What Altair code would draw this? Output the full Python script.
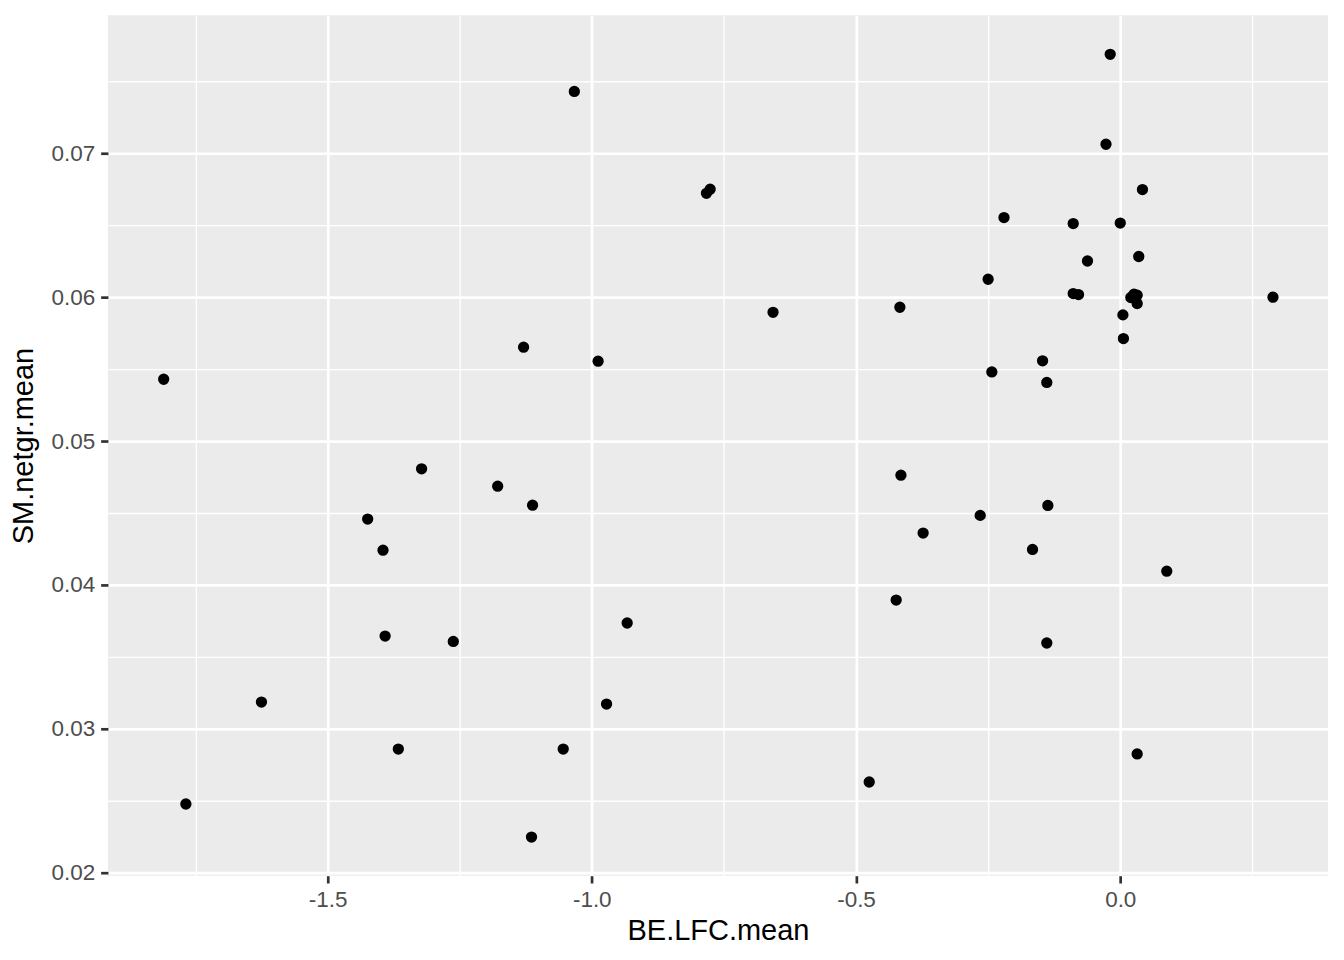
import altair as alt
import pandas as pd

be_lfc_mean = [-1.810, -1.768, -1.625, -1.424, -1.395, -1.391, -1.366, -1.322, -1.262, -1.178,
               -1.129, -1.112, -1.114, -1.054, -1.033, -0.988, -0.972, -0.933, -0.783, -0.776,
               -0.657, -0.475, -0.424, -0.417, -0.415, -0.373, -0.265, -0.250, -0.243, -0.220,
               -0.166, -0.147, -0.139, -0.137, -0.139, -0.089, -0.089, -0.079, -0.062, -0.027,
               -0.019, 0.000, 0.005, 0.006, 0.020, 0.026, 0.032, 0.032, 0.035, 0.032,
               0.042, 0.088, 0.289]
sm_netgr_mean = [0.05430, 0.02475, 0.03184, 0.04457, 0.04241, 0.03643, 0.02857, 0.04807, 0.03606, 0.04686,
                 0.05653, 0.04554, 0.02245, 0.02857, 0.07433, 0.05556, 0.03170, 0.03734, 0.06724, 0.06752,
                 0.05896, 0.02628, 0.03894, 0.05931, 0.04763, 0.04360, 0.04483, 0.06126, 0.05481, 0.06555,
                 0.04246, 0.05558, 0.05408, 0.04552, 0.03595, 0.06513, 0.06026, 0.06019, 0.06253, 0.07065,
                 0.07691, 0.06517, 0.05878, 0.05713, 0.05999, 0.06022, 0.06015, 0.05957, 0.06284, 0.02823,
                 0.06750, 0.04095, 0.06001]

x_major = [-1.5, -1.0, -0.5, 0.0]
x_minor = [-1.75, -1.25, -0.75, -0.25, 0.25]
y_major = [0.02, 0.03, 0.04, 0.05, 0.06, 0.07]
y_minor = [0.025, 0.035, 0.045, 0.055, 0.065, 0.075]
x_domain = [-1.9155, 0.3931]
y_domain = [0.01976, 0.07962]

df = pd.DataFrame({"be_lfc": be_lfc_mean, "sm_netgr": sm_netgr_mean})

FONT = "Liberation Sans"


def axis_for(major, minor, fmt, title_kw):
    test = f"indexof({major}, datum.value) >= 0"
    label = (f"{test} ? (datum.value < 0 ? '-' + format(-datum.value, '{fmt}') "
             f": format(datum.value, '{fmt}')) : ''")
    return alt.Axis(
        values=sorted(major + minor),
        labelExpr=label,
        domain=False,
        grid=True,
        gridColor="#FFFFFF",
        gridWidth={"condition": {"test": test, "value": 2.7}, "value": 1.35},
        gridOpacity=1,
        ticks=True,
        tickSize=7.3,
        tickWidth=2.7,
        tickColor={"condition": {"test": test, "value": "#333333"}, "value": "transparent"},
        labelFont=FONT,
        labelFontSize=22.5,
        labelColor="#4D4D4D",
        labelPadding=6,
        labelOverlap=False,
        labelFlush=False,
        titleFont=FONT,
        titleFontSize=29,
        titleFontWeight="normal",
        titleColor="#000000",
        titleBaseline="alphabetic",
        **title_kw,
    )


x_axis = axis_for(x_major, x_minor, ".1f", {"titleY": 64})
y_axis = axis_for(y_major, y_minor, ".2f", {"titleX": -75})

chart = (
    alt.Chart(df)
    .mark_circle(size=128, color="#000000", opacity=1)
    .encode(
        x=alt.X("be_lfc:Q", scale=alt.Scale(domain=x_domain, nice=False, zero=False), axis=x_axis,
                title="BE.LFC.mean"),
        y=alt.Y("sm_netgr:Q", scale=alt.Scale(domain=y_domain, nice=False, zero=False), axis=y_axis,
                title="SM.netgr.mean"),
    )
    .properties(
        width=1221,
        height=861,
        autosize=alt.AutoSizeParams(type="none"),
        padding={"left": 100, "top": 7, "right": 8, "bottom": 70},
        background="#FFFFFF",
    )
    .configure_view(fill="#EBEBEB", stroke=None)
)

chart.save("out.html", embed_options={"renderer": "svg", "actions": False})
